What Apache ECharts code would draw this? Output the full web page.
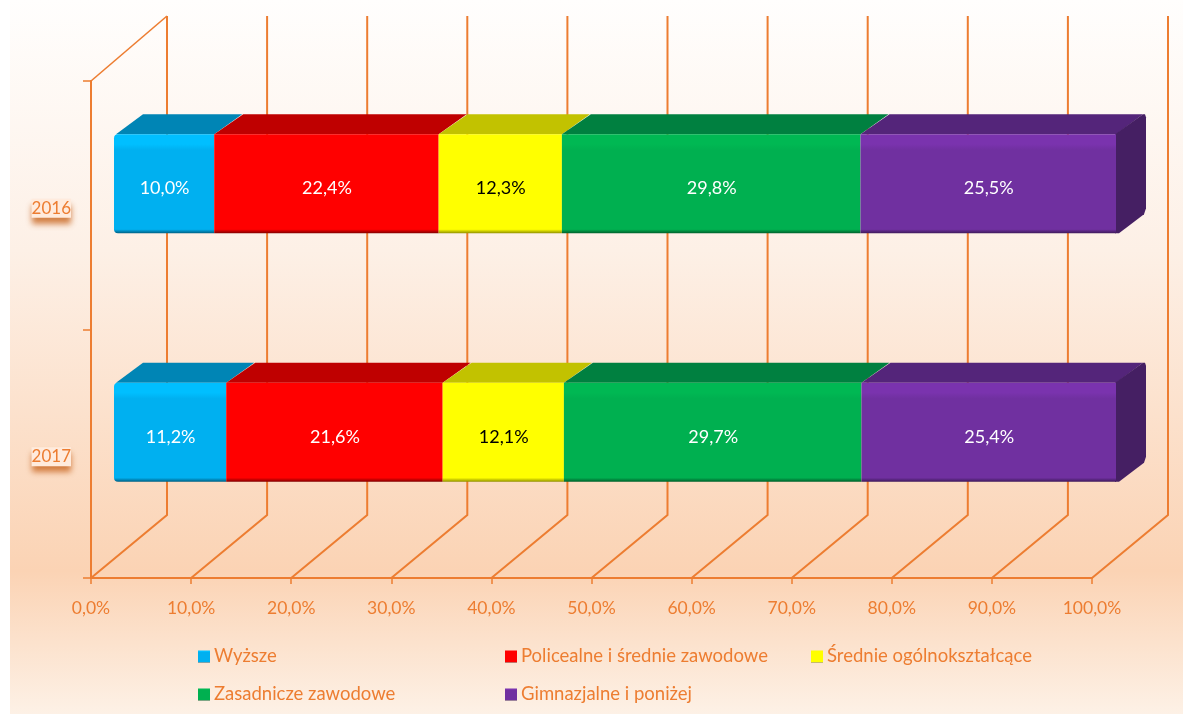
<!DOCTYPE html>
<html><head><meta charset="utf-8">
<style>html,body{margin:0;padding:0;background:#fff}#c{width:1183px;height:714px}</style>
<script src="https://cdn.jsdelivr.net/npm/echarts@6/dist/echarts.min.js"></script>
</head><body><div id="c"></div>
<script>
var years = ['2016', '2017'];
var wyzsze = [10.0, 11.2];
var policealne = [22.4, 21.6];
var srednie = [12.3, 12.1];
var zasadnicze = [29.8, 29.7];
var gimnazjalne = [25.5, 25.4];
var seriesNames = ['Wyższe', 'Policealne i średnie zawodowe', 'Średnie ogólnokształcące', 'Zasadnicze zawodowe', 'Gimnazjalne i poniżej'];
var seriesValues = [wyzsze, policealne, srednie, zasadnicze, gimnazjalne];
var xTicks = [0, 10, 20, 30, 40, 50, 60, 70, 80, 90, 100];

var ORANGE = '#ED7D31';
var frontColors = ['#00B0F0', '#FF0000', '#FFFF00', '#00B050', '#7030A0'];
var lightColors = ['#00BFFF', '#FF0000', '#FFFF00', '#00B853', '#7A33AE'];
var darkEdge = ['#005F82', '#7F0000', '#8F8F00', '#005F2B', '#3E1A5A'];
var topColors = ['#0085B5', '#BF0000', '#C2C200', '#008040', '#54257A'];
var sideColor = '#451F63';
var labelColors = ['#fff', '#fff', '#000', '#fff', '#fff'];
var FONT = 'Lato';

function pct(v) { return v.toFixed(1).replace('.', ',') + '%'; }

var wallDx = 76, wallDy = -63, wallTop = 16, depthDx = 28, depthDy = -20;
var barRatio = 99 / 248.5;

// 3D wall / floor lines, positioned from the value axis
function renderWalls(params, api) {
  var t = api.value(0);
  var p = api.coord([t, 1]);
  var base = params.coordSys.y + params.coordSys.height;
  var x = p[0];
  var pts = [[x, base], [x + wallDx, base + wallDy], [x + wallDx, wallTop]];
  var kids = [{ type: 'polyline', shape: { points: pts }, style: { fill: null, stroke: ORANGE, lineWidth: 2 } }];
  if (t === 0) {
    kids.push({ type: 'line', shape: { x1: x, y1: params.coordSys.y, x2: x + wallDx, y2: wallTop }, style: { stroke: ORANGE, lineWidth: 1.6 } });
  }
  return { type: 'group', silent: true, children: kids };
}

// top and side faces of the stacked bars
function renderFaces(params, api) {
  var s = api.value(0), e = api.value(1), cat = api.value(2), idx = api.value(3);
  var a = api.coord([s, cat]), b = api.coord([e, cat]);
  var h = api.size([0, 1])[1] * barRatio;
  var yTop = a[1] - h / 2, yBot = a[1] + h / 2;
  var last = idx === seriesValues.length - 1;
  var topPts = [[a[0] + (idx === 0 ? 2 : 0), yTop], [b[0], yTop]];
  if (last) {
    topPts.push([b[0] + depthDx - 1, yTop + depthDy], [b[0] + depthDx + 1, yTop + depthDy]);
  } else {
    topPts.push([b[0] + depthDx, yTop + depthDy]);
  }
  topPts.push([a[0] + depthDx + 1, yTop + depthDy]);
  var kids = [{ type: 'polygon', shape: { points: topPts }, style: { fill: topColors[idx] } }];
  if (last) {
    var bx = b[0];
    kids.push({
      type: 'polygon',
      shape: { points: [[bx - 1, yTop], [bx + depthDx - 1, yTop + depthDy], [bx + depthDx + 1, yTop + depthDy], [bx + depthDx + 2, yTop + depthDy + 3], [bx + depthDx + 2, yBot + depthDy - 5], [bx + depthDx, yBot + depthDy + 1], [bx + 3, yBot], [bx - 1, yBot]] },
      style: { fill: sideColor }
    });
  }
  return { type: 'group', silent: true, children: kids };
}

var faceData = [];
years.forEach(function (y, c) {
  var acc = 0;
  seriesValues.forEach(function (vals, i) {
    faceData.push([acc, acc + vals[c], c, i]);
    acc += vals[c];
  });
});

var barSeries = seriesNames.map(function (name, i) {
  return {
    type: 'bar', name: name, stack: 'total', xAxisIndex: 1, yAxisIndex: 1,
    barWidth: 99, data: seriesValues[i], z: 5,
    itemStyle: {
      color: {
        type: 'linear', x: 0, y: 0, x2: 0, y2: 1,
        colorStops: [
          { offset: 0, color: lightColors[i] }, { offset: 0.1, color: lightColors[i] },
          { offset: 0.16, color: frontColors[i] }, { offset: 0.96, color: frontColors[i] },
          { offset: 1, color: darkEdge[i] }
        ]
      },
      borderRadius: i === 0 ? [4, 0, 0, 4] : 0
    },
    label: {
      show: true, position: 'inside', color: labelColors[i], fontFamily: FONT, fontSize: 18, offset: [0.5, 4.5],
      formatter: function (p) { return pct(p.value); }
    },
    emphasis: { disabled: true }
  };
});

var legendCommon = {
  orient: 'vertical', itemWidth: 12, itemHeight: 12, itemGap: 19, icon: 'rect', selectedMode: false,
  padding: 0, textStyle: { color: ORANGE, fontFamily: FONT, fontSize: 18.5, padding: [0, 0, 0, -1] }
};

var chart = echarts.init(document.getElementById('c'), null, { renderer: 'canvas' });
chart.setOption({
  animation: false,
  backgroundColor: '#fff',
  textStyle: { fontFamily: FONT },
  graphic: [{
    type: 'rect', z: -10, silent: true, shape: { x: 10, y: 0, width: 1173, height: 714 },
    style: {
      fill: {
        type: 'linear', x: 0, y: 0, x2: 0, y2: 1, colorStops: [
          { offset: 0, color: '#FFFEFD' }, { offset: 0.35, color: '#FDF0E6' },
          { offset: 0.8, color: '#FBD3B4' }, { offset: 0.9, color: '#FCE2CD' }, { offset: 1, color: '#FDF1E6' }
        ]
      }
    }
  }],
  grid: [
    { left: 91, top: 81, width: 1001, height: 497 },
    { left: 114, top: 59.5, width: 1002, height: 497 },
    { left: 91, top: 84, width: 1001, height: 497 }
  ],
  xAxis: [
    {
      type: 'value', gridIndex: 0, min: 0, max: 100, interval: 10, splitLine: { show: false },
      axisLine: { show: true, lineStyle: { color: ORANGE, width: 2 } },
      axisTick: { show: true, length: 6, lineStyle: { color: ORANGE, width: 1.5 } },
      axisLabel: { color: ORANGE, fontFamily: FONT, fontSize: 17.5, margin: 21, formatter: function (v) { return pct(v); }, customValues: xTicks }
    },
    { type: 'value', gridIndex: 1, min: 0, max: 100, show: false },
    { type: 'value', gridIndex: 2, min: 0, max: 100, show: false }
  ],
  yAxis: [
    {
      type: 'category', gridIndex: 0, data: years, inverse: true, boundaryGap: true,
      axisLine: { show: true, onZero: false, lineStyle: { color: ORANGE, width: 2 } },
      axisTick: { show: true, length: 8, lineStyle: { color: ORANGE, width: 1.5 } },
      axisLabel: { show: false }
    },
    { type: 'category', gridIndex: 1, data: years, inverse: true, show: false },
    {
      type: 'category', gridIndex: 2, data: years, inverse: true,
      axisLine: { show: false }, axisTick: { show: false },
      axisLabel: {
        color: ORANGE, fontFamily: FONT, fontSize: 17, margin: 20,
        backgroundColor: '#FFEBDD', padding: [1, 0, 1, 0],
        shadowColor: 'rgba(200,100,30,0.8)', shadowBlur: 6, shadowOffsetY: 6
      }
    }
  ],
  legend: [
    Object.assign({}, legendCommon, { left: 198, top: 647, data: [seriesNames[0], seriesNames[3]] }),
    Object.assign({}, legendCommon, { left: 505, top: 647, data: [seriesNames[1], seriesNames[4]] }),
    Object.assign({}, legendCommon, { left: 811, top: 647, data: [seriesNames[2]] })
  ],
  series: [
    {
      type: 'custom', name: 'walls', xAxisIndex: 0, yAxisIndex: 0, silent: true, z: 1, clip: false,
      renderItem: renderWalls, data: xTicks.map(function (t) { return [t]; }), encode: { x: 0 }
    },
    {
      type: 'custom', name: 'faces', xAxisIndex: 1, yAxisIndex: 1, silent: true, z: 4, clip: false,
      renderItem: renderFaces, data: faceData, encode: { x: [0, 1], y: 2 }
    }
  ].concat(barSeries)
});
</script></body></html>
